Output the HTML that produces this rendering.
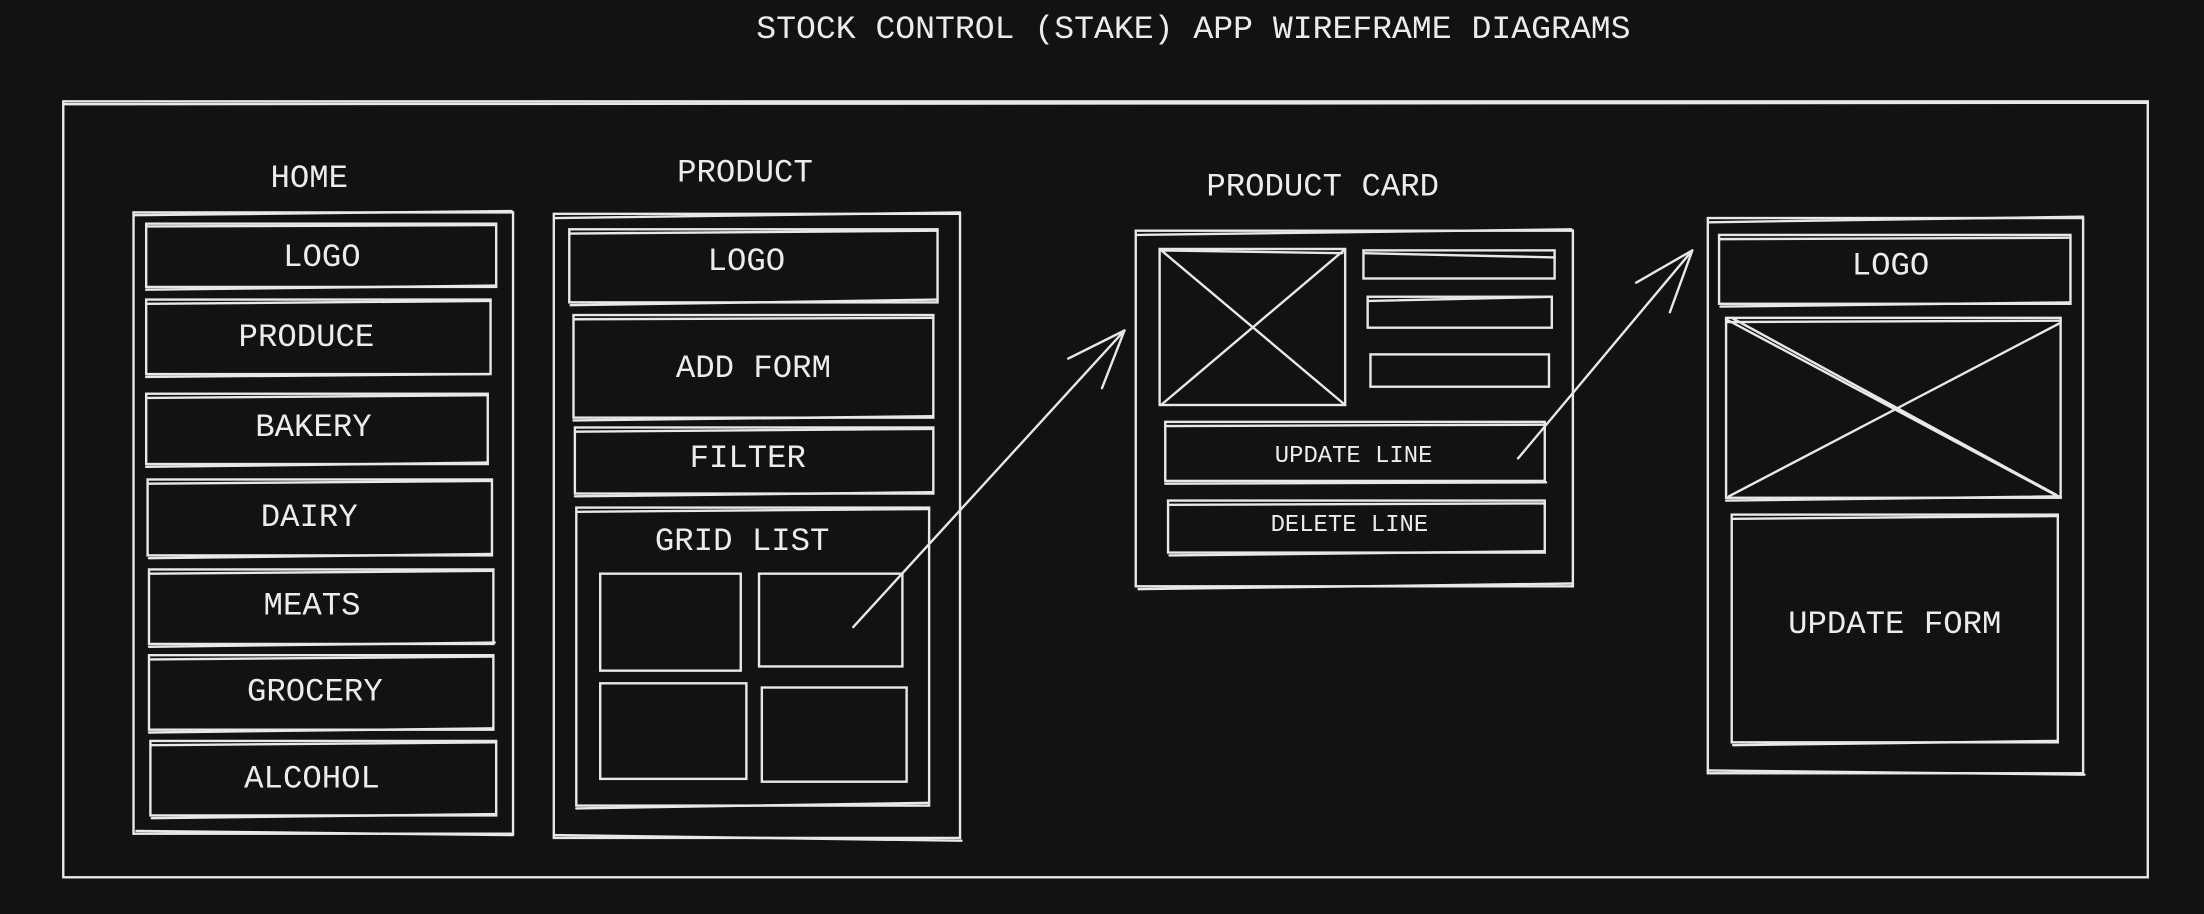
<!DOCTYPE html>
<html><head><meta charset="utf-8"><style>
html,body{margin:0;padding:0;background:#121212;}
svg{display:block}
text{font-family:"Liberation Mono","DejaVu Sans Mono",monospace;fill:#ececec;text-anchor:middle;dominant-baseline:middle;}
</style></head><body>
<svg width="2204" height="914" viewBox="0 0 1568 650" xmlns="http://www.w3.org/2000/svg">
<rect width="1568" height="650" fill="#121212"/>
<g fill="none" stroke="#e8e8e8" stroke-width="1.7" stroke-linecap="round">
<rect x="45" y="72" width="1483" height="552"/>
<path d="M46 74 L1527 73"/>
<rect x="95" y="151" width="270" height="442"/><path d="M96 153 L364 150 M97 591 L365 594"/>
<rect x="104" y="159" width="249" height="45"/><path d="M105 161 L352 160 M104 206 L353 203"/>
<rect x="104" y="213" width="245" height="53"/><path d="M105 216 L349 214 M104 268 L348 266"/>
<rect x="104" y="280" width="243" height="50"/><path d="M105 283 L347 281 M104 332 L347 329"/>
<rect x="105" y="341" width="245" height="54"/><path d="M106 344 L350 342 M106 397 L350 394"/>
<rect x="106" y="405" width="245" height="53"/><path d="M107 408 L351 406 M106 460 L352 457"/>
<rect x="106" y="466" width="245" height="53"/><path d="M107 469 L351 467 M106 521 L351 518"/>
<rect x="107" y="527" width="246" height="53"/><path d="M108 530 L353 528 M108 582 L353 579"/>
<rect x="394" y="152" width="289" height="444"/><path d="M395 155 L683 151 M394 594 L684 598"/>
<rect x="405" y="163" width="262" height="52"/><path d="M406 166 L667 164 M406 217 L667 213"/>
<rect x="408" y="224" width="256" height="73"/><path d="M409 227 L664 226 M408 299 L664 296"/>
<rect x="409" y="304" width="255" height="47"/><path d="M410 307 L664 305 M409 353 L663 350"/>
<rect x="410" y="361" width="251" height="212"/><path d="M411 364 L661 362 M410 575 L661 571"/>
<rect x="427" y="408" width="100" height="69"/>
<rect x="540" y="408" width="102" height="66"/>
<rect x="427" y="486" width="104" height="68"/>
<rect x="542" y="489" width="103" height="67"/>
<path d="M607 446 L800 235"/><path d="M800 235 L760 255 M800 235 L784 276"/>
<rect x="808" y="164" width="311" height="253"/><path d="M809 167 L1118 163 M810 419 L1119 415"/>
<rect x="825" y="177" width="132" height="111"/><path d="M825 177 L957 288 M826 288 L956 178 M826 178 L955 180"/>
<rect x="970" y="178" width="136" height="20"/><path d="M971 180 L1106 183"/>
<rect x="973" y="211" width="131" height="22"/><path d="M974 214 L1104 211"/>
<rect x="975" y="252" width="127" height="23"/>
<rect x="829" y="300" width="270" height="42"/><path d="M830 303 L1099 302 M829 344 L1100 343"/>
<rect x="831" y="356" width="268" height="37"/><path d="M832 359 L1099 358 M832 395 L1099 392"/>
<path d="M1080 326 L1204 178"/><path d="M1204 178 L1164 201 M1204 178 L1188 222"/>
<rect x="1215" y="155" width="267" height="395"/><path d="M1216 158 L1482 154 M1215 548 L1483 551"/>
<rect x="1223" y="167" width="250" height="49"/><path d="M1224 170 L1473 169 M1224 218 L1472 215"/>
<rect x="1228" y="226" width="238" height="128"/><path d="M1229 229 L1466 228 M1228 356 L1466 353 M1228 227 L1466 354 M1230 353 L1465 230 M1232 226 L1463 352"/>
<rect x="1232" y="366" width="232" height="162"/><path d="M1233 369 L1464 367 M1233 530 L1463 527"/>
</g>
<text x="849" y="21" font-size="23" textLength="622" lengthAdjust="spacingAndGlyphs">STOCK CONTROL (STAKE) APP WIREFRAME DIAGRAMS</text>
<g font-size="23">
<text x="220" y="127">HOME</text>
<text x="530" y="123">PRODUCT</text>
<text x="941" y="133">PRODUCT CARD</text>
<text x="229" y="183">LOGO</text>
<text x="218" y="240">PRODUCE</text>
<text x="223" y="304">BAKERY</text>
<text x="220" y="368">DAIRY</text>
<text x="222" y="431">MEATS</text>
<text x="224" y="492">GROCERY</text>
<text x="222" y="554">ALCOHOL</text>
<text x="531" y="186">LOGO</text>
<text x="536" y="262">ADD FORM</text>
<text x="532" y="326">FILTER</text>
<text x="528" y="385">GRID LIST</text>
<text x="1345" y="189">LOGO</text>
<text x="1348" y="444">UPDATE FORM</text>
</g>
<text x="963" y="324" font-size="17">UPDATE LINE</text>
<text x="960" y="373" font-size="17">DELETE LINE</text>
</svg>
</body></html>
